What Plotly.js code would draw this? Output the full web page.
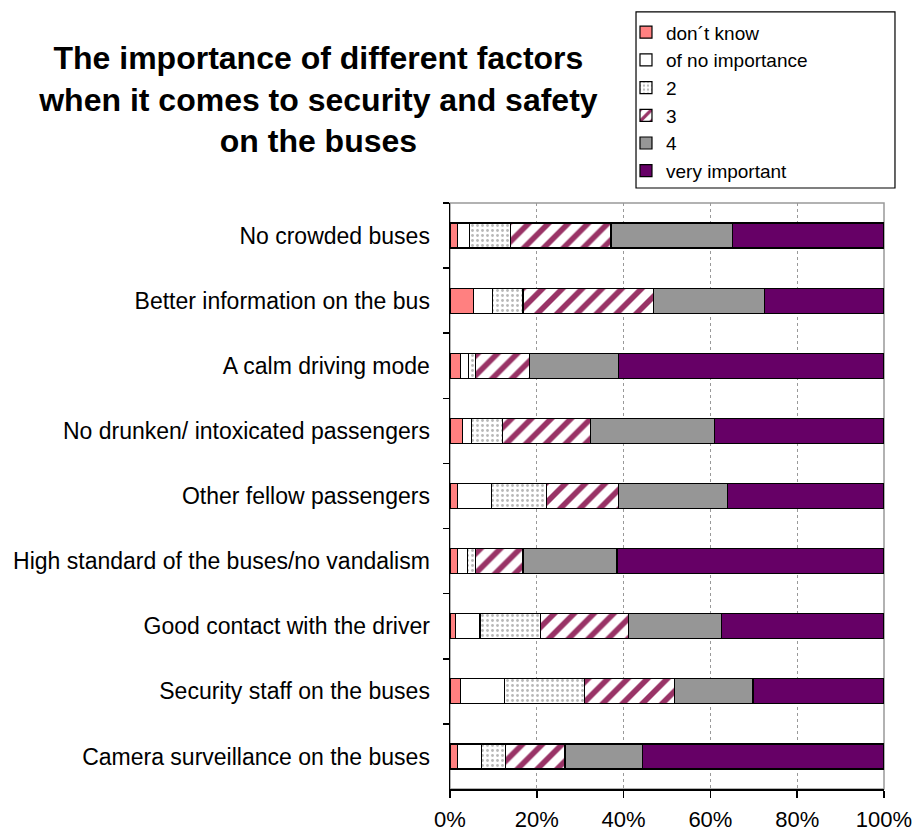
<!DOCTYPE html>
<html>
<head>
<meta charset="utf-8">
<script src="https://cdn.plot.ly/plotly-3.0.1.min.js"></script>
<style>html,body{margin:0;padding:0;background:#fff;}#chart{width:915px;height:834px;}</style>
</head>
<body>
<div id="chart"></div>
<script>
var categories = ["No crowded buses","Better information on the bus","A calm driving mode","No drunken/ intoxicated passengers","Other fellow passengers","High standard of the buses/no vandalism","Good contact with the driver","Security staff on the buses","Camera surveillance on the buses"];
var seriesNames = ["don\u00b4t know","of no importance","2","3","4","very important"];
var dontKnow = [1.7, 5.4, 2.5, 2.8, 1.8, 1.7, 1.3, 2.5, 1.8];
var noImportance = [2.7, 4.4, 1.8, 2.1, 7.7, 2.3, 5.6, 10.0, 5.4];
var two = [9.6, 7.0, 1.5, 7.2, 12.7, 1.8, 13.9, 18.4, 5.6];
var three = [23.1, 30.1, 12.5, 20.2, 16.7, 11.0, 20.4, 20.9, 13.7];
var four = [28.0, 25.5, 20.6, 28.6, 25.0, 21.7, 21.3, 18.0, 17.9];
var veryImportant = [34.9, 27.6, 61.1, 39.1, 36.1, 61.5, 37.5, 30.2, 55.6];
var xTicks = [0, 20, 40, 60, 80, 100];

var FONT = "Liberation Sans, Arial, Helvetica, sans-serif";
var outline = {color: "#000000", width: 1.2};

function bar(name, vals, marker) {
  marker.line = outline;
  return {type: "bar", orientation: "h", name: name, x: vals, y: categories, marker: marker, hoverinfo: "x+name"};
}

var data = [
  bar(seriesNames[0], dontKnow, {color: "#FF8080"}),
  bar(seriesNames[1], noImportance, {color: "#FFFFFF"}),
  bar(seriesNames[2], two, {color: "#FFFFFF", pattern: {shape: ".", fgcolor: "#b8b8b8", bgcolor: "#FFFFFF", size: 5, solidity: 0.25}}),
  bar(seriesNames[3], three, {color: "#FFFFFF", pattern: {shape: "/", fgcolor: "#993366", bgcolor: "#FFFFFF", size: 14, solidity: 0.4}}),
  bar(seriesNames[4], four, {color: "#969696"}),
  bar(seriesNames[5], veryImportant, {color: "#660066"})
];

var layout = {
  width: 915, height: 834,
  margin: {l: 450, r: 31, t: 203, b: 45},
  paper_bgcolor: "#FFFFFF", plot_bgcolor: "#FFFFFF",
  font: {family: FONT, size: 22, color: "#000000"},
  barmode: "stack",
  bargap: 0.615,
  showlegend: true,
  title: {
    text: "The importance of different factors<br>when it comes to security and safety<br>on the buses",
    font: {family: FONT, size: 32, color: "#000000", weight: "bold"},
    xref: "container", x: 0.348, xanchor: "center",
    yref: "container", y: 0.917, yanchor: "top"
  },
  legend: {
    x: 0.4055, xanchor: "left", y: 1.3236, yanchor: "top",
    borderwidth: 0,
    bgcolor: "rgba(0,0,0,0)",
    traceorder: "normal",
    font: {family: FONT, size: 19, color: "#000000"},
    itemwidth: 30, tracegroupgap: 0
  },
  xaxis: {
    range: [0, 100],
    tickvals: xTicks,
    ticktext: xTicks.map(function (v) { return v + "%"; }),
    showgrid: true, gridcolor: "#999999", griddash: "dot", gridwidth: 1,
    showline: true, linecolor: "#000000", linewidth: 1.5,
    ticks: "outside", ticklen: 7, tickcolor: "#000000", tickwidth: 1.5,
    ticklabelstandoff: 3,
    zeroline: false, fixedrange: true,
    tickfont: {family: FONT, size: 22, color: "#000000"}
  },
  yaxis: {
    type: "category",
    autorange: "reversed",
    showline: true, linecolor: "#000000", linewidth: 1.5,
    ticks: "outside", ticklen: 6, tickcolor: "#000000", tickwidth: 1.5,
    tickson: "boundaries",
    showgrid: false,
    ticklabelstandoff: 14,
    fixedrange: true,
    tickfont: {family: FONT, size: 23, color: "#000000"}
  },
  shapes: [
    {type: "rect", xref: "paper", yref: "paper", x0: 0, x1: 1, y0: 0, y1: 1,
     line: {color: "#999999", width: 1.5}, layer: "below"},
    {type: "rect", xref: "paper", yref: "paper", x0: 0.4286, x1: 1.0253, y0: 1.0256, y1: 1.326,
     line: {color: "#000000", width: 1.2}, fillcolor: "#FFFFFF", layer: "above"}
  ]
};

Plotly.newPlot("chart", data, layout, {displayModeBar: false, staticPlot: true});
</script>
</body>
</html>
